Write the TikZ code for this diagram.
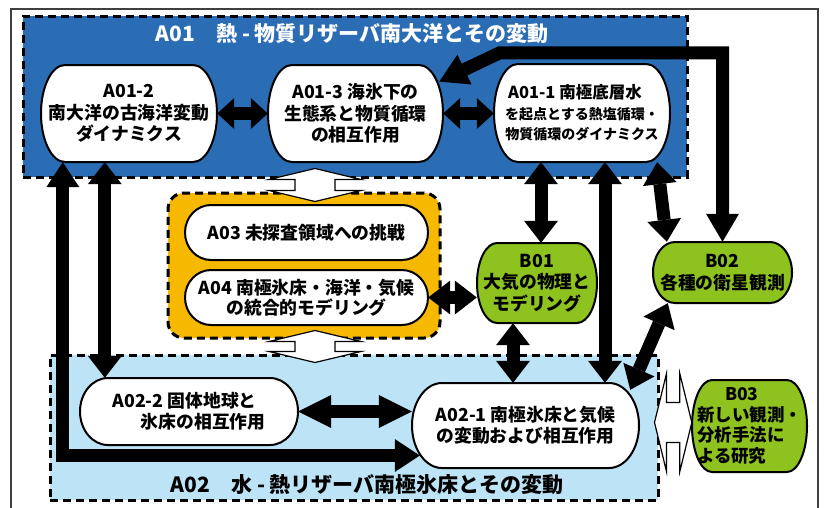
\documentclass[tikz,border=0pt]{standalone}
\usepackage{fontspec}
\setmainfont{Noto Sans CJK JP}
\usetikzlibrary{arrows.meta,calc}
\pgfdeclarelayer{boxes}
\pgfdeclarelayer{shapes}
\pgfsetlayers{boxes,shapes,main}
\definecolor{a01blue}{HTML}{2A6DB5}
\definecolor{a02blue}{HTML}{BDE3F6}
\definecolor{ogorange}{HTML}{F7B800}
\definecolor{bgreen}{HTML}{8DC21F}
\tikzset{
  capline/.style={draw=black, line width=2pt},
  txt/.style={font=\bfseries\fontsize{17.8}{21.5}\selectfont, align=center, inner sep=0pt},
  titletxt/.style={font=\bfseries\fontsize{21}{24}\selectfont, inner sep=0pt},
  dashbox/.style={draw=black, line width=3pt, dash pattern=on 8pt off 5pt, inner sep=0pt},
  conn/.style={line width=13pt, line join=miter, >={Triangle[width=34pt,length=22pt,line width=0pt]}, <->},
  hollow/.style={draw=black, line width=1.2pt, fill=white, line join=miter},
  frameline/.style={draw=black!75, line width=1.5pt},
}
% #1 node opts, #2 fill, #3 name, #4 x1, #5 y1, #6 x2, #7 y2, #8 rx, #9 text
\newcommand\capsule[9]{%
  \pgfmathsetmacro\cymid{(#5+#7)/2}%
  \pgfmathsetmacro\cxmid{(#4+#6)/2}%
  \pgfmathsetmacro\cry{(#7-#5)/2}%
  \pgfmathsetmacro\ckx{0.5523*#8}%
  \pgfmathsetmacro\cky{0.5523*\cry}%
  \begin{pgfonlayer}{shapes}
  \draw[capline, fill=#2] (#4+#8,#5) -- (#6-#8,#5)
    .. controls +(\ckx,0) and +(0,-\cky) .. (#6,\cymid)
    .. controls +(0,\cky) and +(\ckx,0) .. (#6-#8,#7)
    -- (#4+#8,#7)
    .. controls +(-\ckx,0) and +(0,\cky) .. (#4,\cymid)
    .. controls +(0,-\cky) and +(-\ckx,0) .. (#4+#8,#5) -- cycle;
  \end{pgfonlayer}
  \node[txt, minimum width={#6-#4}, minimum height={#7-#5}, #1] (#3) at (\cxmid,\cymid) {#9};
}
\newcommand\hollowv[2]{%
  \draw[hollow] (#1) -- ++(46,11) -- ++(-26,0) -- ($(#2)+(20,-11)$) -- ++(26,0) -- (#2)
    -- ++(-46,-11) -- ++(26,0) -- ($(#1)+(-20,11)$) -- ++(-26,0) -- cycle;}
\newcommand\hollowh[2]{%
  \draw[hollow] (#1) -- ++(12,-49) -- ++(0,29) -- ($(#2)+(-12,-20)$) -- ++(0,-29) -- (#2)
    -- ++(-12,49) -- ++(0,-29) -- ($(#1)+(12,20)$) -- ++(0,29) -- cycle;}
\begin{document}
\begin{tikzpicture}[x=1pt,y=-1pt]
\useasboundingbox (0,0) rectangle (824,507);
\begin{pgfonlayer}{boxes}
  \draw[frameline] (11,515) -- (11,9) -- (818,9) -- (818,515);
  \node[dashbox, fill=a01blue, minimum width=664, minimum height=161] (a01box) at (355,96.5) {};
  \node[dashbox, fill=a02blue, minimum width=608, minimum height=145] (a02box) at (354,427.5) {};
  \node[dashbox, fill=ogorange, rounded corners=16pt, minimum width=272, minimum height=145] (ogbox) at (304,265.5) {};
\end{pgfonlayer}
\node[titletxt, text=white] (a01title) at (352,34) {A01　熱 - 物質リザーバ南大洋とその変動};
\node[titletxt] (a02title) at (367,485) {A02　水 - 熱リザーバ南極氷床とその変動};

\capsule{}{white}{a012}{41}{65}{217}{162}{24}{A01-2\\南大洋の古海洋変動\\ダイナミクス}
\capsule{}{white}{a013}{268}{65}{443}{162}{24}{A01-3 海氷下の\\生態系と物質循環\\の相互作用}
\capsule{font=\bfseries\fontsize{14}{20.5}\selectfont}{white}{a011}{494}{64}{670}{162}{24}{{\fontsize{16.5}{20.5}\selectfont A01-1 南極底層水\hspace*{14pt}}\\を起点とする熱塩循環・\\物質循環のダイナミクス}
\capsule{}{white}{a03}{185}{205}{428}{260}{26}{A03 未探査領域への挑戦}
\capsule{font=\bfseries\fontsize{17.8}{20.5}\selectfont}{white}{a04}{185}{270}{428}{325}{26}{A04 南極氷床・海洋・気候\\の統合的モデリング}
\capsule{}{bgreen}{b01}{477}{243}{597}{323}{20}{B01\\大気の物理と\\モデリング}
\capsule{}{bgreen}{b02}{653}{242}{792}{303}{22}{B02\\各種の衛星観測}
\capsule{align=left}{white}{a022}{80}{378}{298}{445}{28}{A02-2 固体地球と\\\hspace*{1.6em}氷床の相互作用}
\capsule{}{white}{a021}{412}{383}{639}{468}{30}{A02-1 南極氷床と気候\\の変動および相互作用}
\capsule{align=left, font=\bfseries\fontsize{17.5}{20.5}\selectfont}{bgreen}{b03}{692}{380}{807}{472}{20}{\hspace*{1.6em}B03\\新しい観測・\\分析手法に\\よる研究}

% hollow arrows
\coordinate (wt1) at ($(a01box.south)+(-40,-10)$);
\coordinate (wb1) at ($(ogbox.north)+(11,10)$);
\coordinate (wt2) at ($(ogbox.south)+(11,-9)$);
\coordinate (wb2) at ($(a02box.north)+(-39,9)$);
\coordinate (wl3) at ($(a02box.east)+(-5,-5)$);
\coordinate (wr3) at (b03.west |- wl3);
\hollowv{wt1}{wb1}
\hollowv{wt2}{wb2}
\hollowh{wl3}{wr3}

% black connectors
\draw[conn, >={Triangle[width=31pt,length=17pt,line width=0pt]}] (a012.east) -- (a013.west);
\draw[conn, >={Triangle[width=31pt,length=17pt,line width=0pt]}] (a013.east) -- (a013.east -| a011.west);
\coordinate (kink) at ($(a011.north west)+(6,-11)$);
\draw[conn, >={Triangle[width=33pt,length=28pt,line width=0pt]}] (b02.north) |- (kink) -- ($(a013.20)+(-4,0)$);
\coordinate (p541) at ($(b01.north)+(4,0)$);
\draw[conn] (p541) -- (p541 |- a011.south);
\coordinate (p605) at ($(a011.south)+(23,0)$);
\draw[conn] (p605) -- (p605 |- a021.north);
\draw[conn] ($(a011.south east)+(-13,0)$) -- ($(b02.north west)+(14,0)$);
\draw[conn] ($(b02.south west)+(15,0)$) -- ($(a021.north east)+(-9,7)$);
\coordinate (p513) at ($(b01.south)+(-24,0)$);
\draw[conn] (p513) -- (p513 |- a021.north);
\draw[conn] (a04.east) -- (a04.east -| b01.west);
\coordinate (p63) at ($(a012.south west)+(22,0)$);
\coordinate (q455) at ($(a021.west)+(8,30)$);
\draw[conn, >={Triangle[width=33pt,length=25pt,line width=0pt]}] (p63) |- (q455);
\coordinate (p105) at ($(a012.south west)+(64,0)$);
\draw[conn] (p105) -- (p105 |- a022.north);
\draw[conn, >={Triangle[width=33pt,length=33pt,line width=0pt]}] (a022.east) -- (a022.east -| a021.west);
\end{tikzpicture}
\end{document}
